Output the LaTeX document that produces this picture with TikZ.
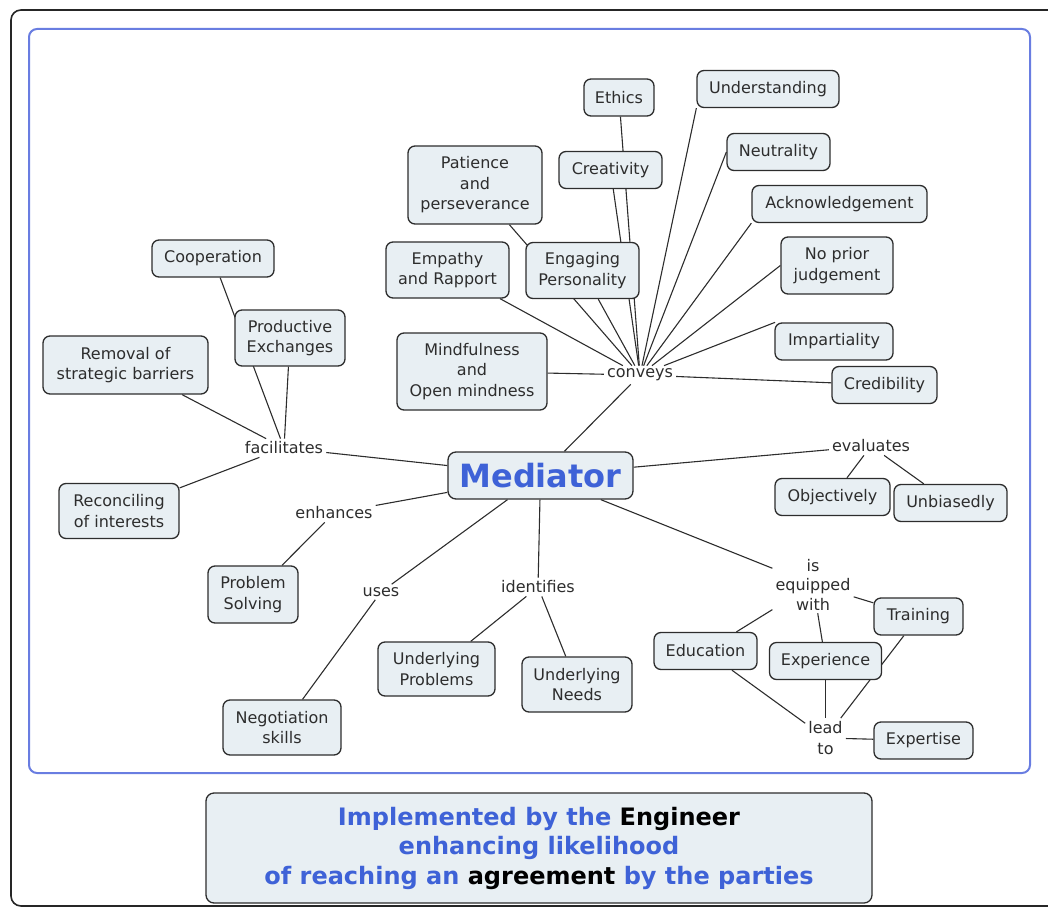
\documentclass[tikz,border=0pt]{standalone}
\usepackage{fontspec}
\setmainfont{DejaVu Sans}
\usetikzlibrary{backgrounds}
\definecolor{boxfill}{RGB}{232,239,243}
\definecolor{frameblue}{RGB}{105,125,225}
\definecolor{titleblue}{RGB}{62,98,215}
\definecolor{inkgray}{RGB}{45,45,45}
\begin{document}
\begin{tikzpicture}[x=1pt,y=-1pt,
  concept/.style={draw=inkgray, fill=boxfill, rounded corners=7pt, line width=1.3pt,
    inner xsep=8pt, inner ysep=4pt, minimum height=37pt, align=center,
    font=\fontsize{16}{20.5}\selectfont, text=inkgray},
  linkphrase/.style={inner sep=3pt, align=center,
    font=\fontsize{16}{21}\selectfont, text=inkgray},
  conn/.style={draw=inkgray, line width=1.1pt}]
\useasboundingbox (0,0) rectangle (1048,909);

% outer sheet and map frame
\draw[line width=1.6pt, black!85, rounded corners=10pt]
  (1080,10) -- (11,10) -- (11,906) -- (1080,906);
\draw[frameblue, line width=2pt, rounded corners=8pt] (29,29) rectangle (1030,773);

% central concept
\node[concept, rounded corners=8pt, minimum width=185pt, minimum height=47pt,
  font=\fontsize{32}{34}\selectfont\bfseries, text=titleblue] (med) at (540.5,475.5) {Mediator};

% qualities conveyed
\node[linkphrase] (conv) at (640,375) {conveys};
\node[concept, minimum width=70pt] (eth) at (619,97.5) {Ethics};
\node[concept, minimum width=142pt] (und) at (768,89) {Understanding};
\node[concept, minimum width=103pt] (cre) at (610.5,170) {Creativity};
\node[concept, minimum width=103pt] (neu) at (778.5,152) {Neutrality};
\node[concept, minimum width=134pt, minimum height=78pt] (pat) at (475,185) {Patience\\and\\perseverance};
\node[concept, minimum width=175pt] (ack) at (839.5,204) {Acknowledgement};
\node[concept, minimum width=123pt, minimum height=56pt] (emp) at (447.5,270) {Empathy\\and Rapport};
\node[concept, minimum width=113pt, minimum height=56pt] (eng) at (582.5,270.5) {Engaging\\Personality};
\node[concept, minimum width=112pt, minimum height=57pt] (npj) at (837,265.5) {No prior\\judgement};
\node[concept, minimum width=150pt, minimum height=77pt] (mind) at (472,371.5) {Mindfulness\\and\\Open mindness};
\node[concept, minimum width=118pt] (imp) at (834,341.5) {Impartiality};
\node[concept, minimum width=105pt] (crd) at (884.5,385) {Credibility};

% what the mediator facilitates
\node[linkphrase] (fac) at (284,448) {facilitates};
\node[concept, minimum width=122pt] (coop) at (213,258.5) {Cooperation};
\node[concept, minimum width=110pt, minimum height=56pt] (prod) at (290,338) {Productive\\Exchanges};
\node[concept, minimum width=165pt, minimum height=58pt] (rem) at (125.5,365) {Removal of\\strategic barriers};
\node[concept, minimum width=120pt, minimum height=55pt] (rec) at (119,511) {Reconciling\\of interests};

% evaluation
\node[linkphrase] (eva) at (871,446) {evaluates};
\node[concept, minimum width=115pt] (obj) at (832.5,497) {Objectively};
\node[concept, minimum width=113pt] (unb) at (950.5,503) {Unbiasedly};

% lower branches
\node[linkphrase] (enh) at (334,513) {enhances};
\node[concept, minimum width=90pt, minimum height=57pt] (prob) at (253,594.5) {Problem\\Solving};
\node[linkphrase] (uses) at (381,592) {uses};
\node[concept, minimum width=118pt, minimum height=55pt] (neg) at (282,727.5) {Negotiation\\skills};
\node[linkphrase] (ide) at (538,587) {identifies};
\node[concept, minimum width=117pt, minimum height=54pt] (upr) at (436.5,669) {Underlying\\Problems};
\node[concept, minimum width=110pt, minimum height=55pt] (und2) at (577,684.5) {Underlying\\Needs};

% qualifications
\node[linkphrase, font=\fontsize{16}{19.5}\selectfont] (equ) at (813,584.5) {is\\equipped\\with};
\node[concept, minimum width=89pt] (tra) at (918.5,616.5) {Training};
\node[concept, minimum width=103pt] (edu) at (705.5,651) {Education};
\node[concept, minimum width=112pt] (exp) at (825.5,661) {Experience};
\node[linkphrase, font=\fontsize{16}{21}\selectfont] (lead) at (825.5,738) {lead\\to};
\node[concept, minimum width=99pt] (ext) at (923.5,740.5) {Expertise};

% summary box
\node[concept, rounded corners=8pt, minimum width=666pt, minimum height=110pt,
  font=\fontsize{24}{29.5}\selectfont\bfseries, text=titleblue] (sum) at (539,848)
  {Implemented by the \textcolor{black}{Engineer}\\
   enhancing likelihood\\
   of reaching an \textcolor{black}{agreement} by the parties};

\begin{pgfonlayer}{background}
  % conveys
  \foreach \c in {eth,cre,pat,emp,eng,mind,crd}
    \draw[conn] (\c) -- (conv);
  \draw[conn] (und.south west) -- (conv);
  \draw[conn] (neu.west) -- (conv);
  \draw[conn] (ack.south west) -- (conv);
  \draw[conn] (npj.west) -- (conv);
  \draw[conn] (imp.162) -- (conv);
  \draw[conn] (med) -- (conv);
  % facilitates
  \foreach \c in {coop,prod,rem,rec}
    \draw[conn] (\c) -- (fac);
  \draw[conn] (med) -- (fac);
  % evaluates
  \draw[conn] (med) -- (eva);
  \draw[conn] (eva) -- (obj);
  \draw[conn] (eva) -- (unb);
  % enhances, uses, identifies
  \draw[conn] (med) -- (enh);
  \draw[conn] (enh) -- (prob);
  \draw[conn] (med) -- (uses);
  \draw[conn] (uses) -- (neg);
  \draw[conn] (med) -- (ide);
  \draw[conn] (ide) -- (upr);
  \draw[conn] (ide) -- (und2);
  % is equipped with / lead to
  \draw[conn] (med) -- (equ);
  \foreach \c in {tra,edu,exp}
    \draw[conn] (equ) -- (\c);
  \foreach \c in {tra,edu,exp}
    \draw[conn] (\c) -- (lead);
  \draw[conn] (lead) -- (ext);
\end{pgfonlayer}
\end{tikzpicture}
\end{document}
